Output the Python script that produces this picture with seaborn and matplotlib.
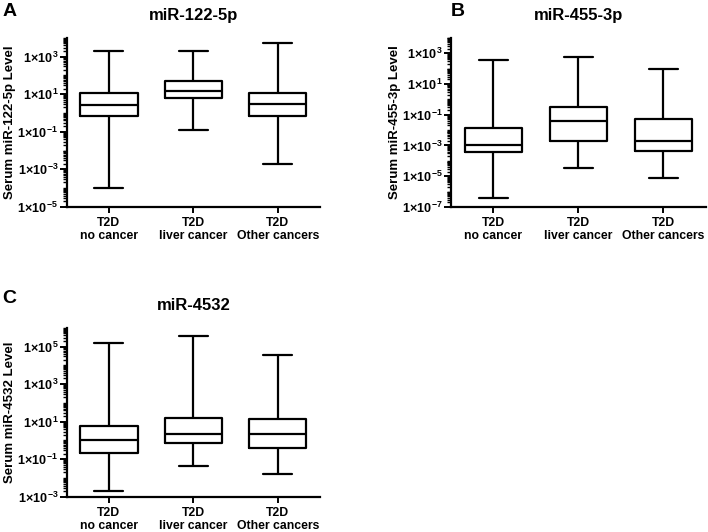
import numpy as np
import pandas as pd
import matplotlib
matplotlib.use('Agg')
import matplotlib.pyplot as plt
import matplotlib.ticker as mticker
import seaborn as sns

sns.set_style('ticks')
plt.rcParams['font.family'] = ['Liberation Sans', 'DejaVu Sans']
plt.rcParams['font.weight'] = 'bold'
plt.rcParams['mathtext.fontset'] = 'custom'
plt.rcParams['mathtext.rm'] = 'Liberation Sans:bold'
plt.rcParams['mathtext.bf'] = 'Liberation Sans:bold'
plt.rcParams['mathtext.it'] = 'Liberation Sans:bold'
for key in ['text.color', 'axes.labelcolor', 'xtick.color', 'ytick.color', 'axes.edgecolor']:
    plt.rcParams[key] = 'black'

groups = ['T2D\nno cancer', 'T2D\nliver cancer', 'T2D\nOther cancers']

# min, q1, median, q3, max per group
mir122 = [[1.0e-4, 0.70, 2.5, 11, 2000],
          [0.13, 6.5, 15.5, 48, 2000],
          [2.0e-3, 0.66, 2.9, 12, 5600]]
mir455 = [[4.0e-7, 3.5e-4, 1.05e-3, 0.014, 355],
          [3.5e-5, 2.0e-3, 0.039, 0.30, 600],
          [8.0e-6, 4.6e-4, 2.0e-3, 0.055, 93]]
mir4532 = [[2.0e-3, 0.22, 1.05, 5.8, 1.6e5],
           [0.045, 0.76, 2.3, 15.5, 3.5e5],
           [0.017, 0.39, 2.2, 14, 3.5e4]]

panels = [
    ('A', 'miR-122-5p', 'Serum miR-122-5p Level', mir122, (1e-5, 1e4), [-5, -3, -1, 1, 3]),
    ('B', 'miR-455-3p', 'Serum miR-455-3p Level', mir455, (1e-7, 1e4), [-7, -5, -3, -1, 1, 3]),
    ('C', 'miR-4532', 'Serum miR-4532 Level', mir4532, (1e-3, 1e6), [-3, -1, 1, 3, 5]),
]
positions = [[0.094, 0.611, 0.358, 0.318],
             [0.637, 0.611, 0.360, 0.318],
             [0.094, 0.066, 0.358, 0.318]]
letter_pos = [(0.003, 0.995), (0.636, 0.995), (0.003, 0.455)]


def fmt(v, pos):
    e = int(round(np.log10(v)))
    return r'$1\!\times\!10^{%d}$' % e


fig = plt.figure(figsize=(7.08, 5.32), dpi=100)

for (letter, title, ylabel, stats, ylim, exps), rect, lp in zip(panels, positions, letter_pos):
    ax = fig.add_axes(rect)
    rows = []
    for g, vals in zip(groups, stats):
        for v in vals:
            rows.append({'group': g, 'value': v})
    df = pd.DataFrame(rows)
    sns.boxplot(data=df, x='group', y='value', order=groups, whis=(0, 100),
                log_scale=True, fill=False, color='black', linewidth=1.6,
                width=0.68, ax=ax)
    ax.set_ylim(*ylim)
    ax.set_xlim(-0.5, 2.5)
    ax.yaxis.set_major_locator(mticker.FixedLocator([10.0 ** e for e in exps]))
    ax.yaxis.set_minor_locator(mticker.LogLocator(base=10, subs=np.arange(1, 10), numticks=60))
    ax.yaxis.set_minor_formatter(mticker.NullFormatter())
    ax.yaxis.set_major_formatter(mticker.FuncFormatter(fmt))
    ax.set_xlabel('')
    ax.set_ylabel(ylabel, fontsize=9.5, fontweight='bold', labelpad=1)
    ax.set_title(title, fontsize=12, fontweight='bold', pad=13)
    for s in ['top', 'right']:
        ax.spines[s].set_visible(False)
    for s in ['left', 'bottom']:
        ax.spines[s].set_linewidth(1.6)
    ax.tick_params(axis='y', which='major', length=5, width=1.4, labelsize=9, pad=1)
    ax.tick_params(axis='y', which='minor', length=3, width=1.0)
    ax.tick_params(axis='x', length=4, width=1.4, labelsize=8.8, pad=3)
    for lab in ax.get_xticklabels():
        lab.set_fontweight('bold')
        lab.set_linespacing(1.15)
    fig.text(lp[0], lp[1], letter, fontsize=14, fontweight='bold', va='top', ha='left')

fig.savefig('out.png', dpi=100)
